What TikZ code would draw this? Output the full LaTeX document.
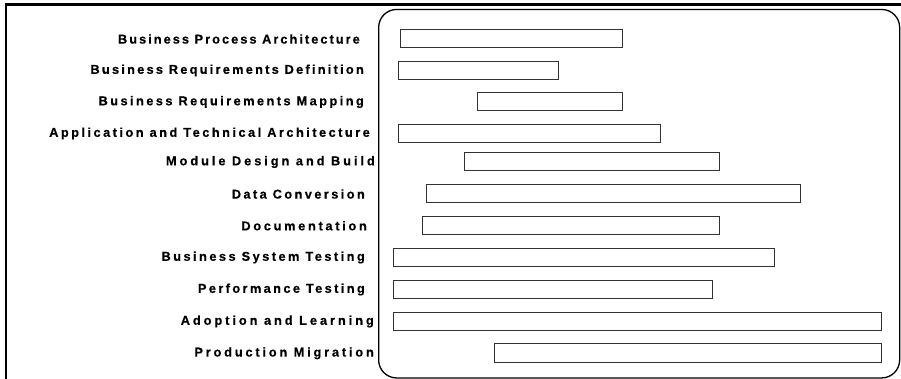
\documentclass[tikz,border=0pt]{standalone}
\usepackage{fontspec}
\newfontfamily\lblfont{Liberation Sans}[FakeBold=0.4]
\begin{document}
\begin{tikzpicture}[x=1pt,y=-1pt,
  bar/.style={draw=black!80, line width=0.9pt, fill=white, inner sep=0pt, outer sep=0pt, anchor=north west},
  lbl/.style={anchor=east, inner sep=0pt, font=\lblfont\bfseries\fontsize{12.8}{14}\selectfont},
  frameline/.style={line width=2.4pt, black},
  panel/.style={draw=black, line width=1.3pt, rounded corners=18pt}]
\useasboundingbox (0,0) rectangle (901,379);
\coordinate (fright) at (901,4.5);
\coordinate (fbot) at (6,379);
\coordinate (fcorner) at (6,4.5);
\draw[frameline] (fright) -- (fcorner) -- (fbot);
\node[panel, inner sep=0pt, minimum width=521pt, minimum height=368.5pt, anchor=north west] (panel) at (378,8.8) {};
\foreach \n/\xl/\xr/\yt/\yb/\lr/\ls/\txt in {
  1/400/622/29.5/47.5/360/15.8/Business Process Architecture,
  2/398.5/558.5/61/79/364/17.5/Business Requirements Definition,
  3/477.5/622/92.5/110.5/364/19/Business Requirements Mapping,
  4/398.5/660.5/124/142/370/19.3/Application and Technical Architecture,
  5/464/719.5/152.5/170.5/375/23/Module Design and Build,
  6/426/800/184.5/202.5/365/18.8/Data Conversion,
  7/422.5/719.5/216/234.5/367/21/Documentation,
  8/393/774.5/248/266/365/19.2/Business System Testing,
  9/393/712/280/298/365/18.6/Performance Testing,
  10/393/881/312/330/374/23/Adoption and Learning,
  11/494.5/881/343.5/362/374/22/Production Migration}{
  \pgfmathsetmacro{\w}{\xr-\xl}
  \pgfmathsetmacro{\h}{\yb-\yt}
  \pgfmathsetmacro{\yc}{(\yt+\yb)/2+0.5}
  \node[bar, minimum width=\w pt, minimum height=\h pt] (bar\n) at (\xl,\yt) {};
  \node[lbl] (lab\n) at (\lr,\yc) {\addfontfeature{LetterSpace=\ls}\txt};
}
\end{tikzpicture}
\end{document}
